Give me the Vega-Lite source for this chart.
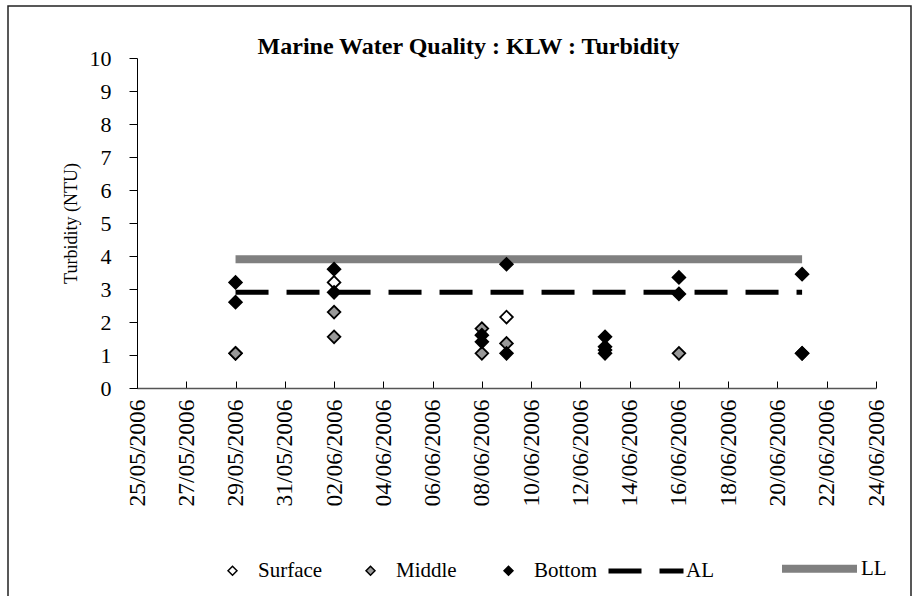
{
  "$schema": "https://vega.github.io/schema/vega-lite/v6.json",
  "width": 903,
  "height": 600,
  "autosize": {"type": "none"},
  "padding": {"left": 8, "top": 6, "right": 9, "bottom": 0},
  "background": "white",
  "config": {
    "view": {"stroke": "#222222", "strokeWidth": 1.5},
    "font": "Liberation Serif"
  },
  "title": {
    "text": "Marine Water Quality : KLW : Turbidity",
    "font": "Liberation Serif",
    "fontSize": 24,
    "fontWeight": "bold",
    "color": "black",
    "anchor": "middle",
    "frame": "group",
    "offset": -53,
    "dx": 9
  },
  "datasets": {
    "points": [
      {"Date": "2006-05-29", "Depth": "Surface", "Turbidity": 1.05},
      {"Date": "2006-06-02", "Depth": "Surface", "Turbidity": 3.2},
      {"Date": "2006-06-09", "Depth": "Surface", "Turbidity": 2.15},
      {"Date": "2006-05-29", "Depth": "Middle", "Turbidity": 1.05},
      {"Date": "2006-06-02", "Depth": "Middle", "Turbidity": 2.3},
      {"Date": "2006-06-02", "Depth": "Middle", "Turbidity": 1.55},
      {"Date": "2006-06-08", "Depth": "Middle", "Turbidity": 1.8},
      {"Date": "2006-06-08", "Depth": "Middle", "Turbidity": 1.05},
      {"Date": "2006-06-09", "Depth": "Middle", "Turbidity": 1.35},
      {"Date": "2006-06-16", "Depth": "Middle", "Turbidity": 1.05},
      {"Date": "2006-06-21", "Depth": "Middle", "Turbidity": 1.05},
      {"Date": "2006-05-29", "Depth": "Bottom", "Turbidity": 3.2},
      {"Date": "2006-05-29", "Depth": "Bottom", "Turbidity": 2.6},
      {"Date": "2006-06-02", "Depth": "Bottom", "Turbidity": 3.6},
      {"Date": "2006-06-02", "Depth": "Bottom", "Turbidity": 2.9},
      {"Date": "2006-06-08", "Depth": "Bottom", "Turbidity": 1.6},
      {"Date": "2006-06-08", "Depth": "Bottom", "Turbidity": 1.4},
      {"Date": "2006-06-09", "Depth": "Bottom", "Turbidity": 3.75},
      {"Date": "2006-06-09", "Depth": "Bottom", "Turbidity": 1.05},
      {"Date": "2006-06-13", "Depth": "Bottom", "Turbidity": 1.55},
      {"Date": "2006-06-13", "Depth": "Bottom", "Turbidity": 1.25},
      {"Date": "2006-06-13", "Depth": "Bottom", "Turbidity": 1.15},
      {"Date": "2006-06-13", "Depth": "Bottom", "Turbidity": 1.05},
      {"Date": "2006-06-16", "Depth": "Bottom", "Turbidity": 3.35},
      {"Date": "2006-06-16", "Depth": "Bottom", "Turbidity": 2.85},
      {"Date": "2006-06-21", "Depth": "Bottom", "Turbidity": 3.45},
      {"Date": "2006-06-21", "Depth": "Bottom", "Turbidity": 1.05}
    ],
    "limits": [
      {"Date": "2006-05-29", "Limit": "AL", "Turbidity": 2.9},
      {"Date": "2006-06-21", "Limit": "AL", "Turbidity": 2.9},
      {"Date": "2006-05-29", "Limit": "LL", "Turbidity": 3.9},
      {"Date": "2006-06-21", "Limit": "LL", "Turbidity": 3.9}
    ]
  },
  "encoding": {
    "x": {
      "field": "Date",
      "type": "temporal",
      "scale": {
        "type": "utc",
        "domain": [
          {"year": 2006, "month": 5, "date": 25, "utc": true},
          {"year": 2006, "month": 6, "date": 24, "utc": true}
        ],
        "range": [129, 868]
      },
      "axis": {
        "orient": "bottom",
        "offset": -218,
        "title": null,
        "grid": false,
        "values": [
          {"year": 2006, "month": 5, "date": 25, "utc": true},
          {"year": 2006, "month": 5, "date": 27, "utc": true},
          {"year": 2006, "month": 5, "date": 29, "utc": true},
          {"year": 2006, "month": 5, "date": 31, "utc": true},
          {"year": 2006, "month": 6, "date": 2, "utc": true},
          {"year": 2006, "month": 6, "date": 4, "utc": true},
          {"year": 2006, "month": 6, "date": 6, "utc": true},
          {"year": 2006, "month": 6, "date": 8, "utc": true},
          {"year": 2006, "month": 6, "date": 10, "utc": true},
          {"year": 2006, "month": 6, "date": 12, "utc": true},
          {"year": 2006, "month": 6, "date": 14, "utc": true},
          {"year": 2006, "month": 6, "date": 16, "utc": true},
          {"year": 2006, "month": 6, "date": 18, "utc": true},
          {"year": 2006, "month": 6, "date": 20, "utc": true},
          {"year": 2006, "month": 6, "date": 22, "utc": true},
          {"year": 2006, "month": 6, "date": 24, "utc": true}
        ],
        "labelExpr": "utcFormat(datum.value, '%d/%m/%Y')",
        "labelAngle": 270,
        "labelAlign": "right",
        "labelBaseline": "middle",
        "labelFont": "Liberation Serif",
        "labelFontSize": 23.5,
        "labelColor": "black",
        "labelPadding": 18,
        "labelOverlap": false,
        "labelFlush": false,
        "labelBound": false,
        "tickSize": -7,
        "tickColor": "black",
        "domainColor": "#555555",
        "domainWidth": 1.5
      }
    },
    "y": {
      "field": "Turbidity",
      "type": "quantitative",
      "scale": {"domain": [0, 10], "range": [382, 52], "nice": false, "zero": true},
      "axis": {
        "orient": "left",
        "offset": -129,
        "title": "Turbidity (NTU)",
        "titleFont": "Liberation Serif",
        "titleFontSize": 18,
        "titleFontWeight": "normal",
        "titleColor": "black",
        "titlePadding": 9,
        "grid": false,
        "values": [0, 1, 2, 3, 4, 5, 6, 7, 8, 9, 10],
        "labelFont": "Liberation Serif",
        "labelFontSize": 22,
        "labelColor": "black",
        "labelPadding": 18,
        "labelOverlap": false,
        "labelFlush": false,
        "tickSize": 8,
        "tickColor": "black",
        "domainColor": "black"
      }
    }
  },
  "layer": [
    {
      "data": {"name": "limits"},
      "mark": {"type": "line", "strokeCap": "butt"},
      "encoding": {
        "stroke": {
          "field": "Limit",
          "type": "nominal",
          "scale": {"domain": ["AL", "LL"], "range": ["black", "#808080"]},
          "legend": {
            "title": null,
            "orient": "none",
            "legendX": 598,
            "legendY": 521,
            "direction": "horizontal",
            "symbolType": "stroke",
            "symbolSize": 5625,
            "labelFont": "Liberation Serif",
            "labelFontSize": 21,
            "labelColor": "black",
            "labelOffset": 0,
            "columnPadding": 51,
            "gridAlign": "all",
            "padding": 0
          }
        },
        "strokeDash": {
          "field": "Limit",
          "type": "nominal",
          "scale": {"domain": ["AL", "LL"], "range": [[33, 18], [1, 0]]},
          "legend": {
            "title": null,
            "orient": "none",
            "legendX": 598,
            "legendY": 521,
            "direction": "horizontal",
            "symbolType": "stroke",
            "symbolSize": 5625,
            "labelFont": "Liberation Serif",
            "labelFontSize": 21,
            "labelColor": "black",
            "labelOffset": 0,
            "columnPadding": 51,
            "gridAlign": "all",
            "padding": 0
          }
        },
        "strokeWidth": {
          "field": "Limit",
          "type": "ordinal",
          "scale": {"domain": ["AL", "LL"], "range": [5, 8]},
          "legend": {
            "title": null,
            "orient": "none",
            "legendX": 598,
            "legendY": 521,
            "direction": "horizontal",
            "symbolType": "stroke",
            "symbolSize": 5625,
            "labelFont": "Liberation Serif",
            "labelFontSize": 21,
            "labelColor": "black",
            "labelOffset": 0,
            "columnPadding": 51,
            "gridAlign": "all",
            "padding": 0
          }
        }
      }
    },
    {
      "data": {"name": "points"},
      "mark": {
        "type": "point",
        "shape": "diamond",
        "filled": true,
        "size": 160,
        "stroke": "black",
        "strokeWidth": 1.8,
        "opacity": 1
      },
      "encoding": {
        "fill": {
          "field": "Depth",
          "type": "nominal",
          "sort": null,
          "scale": {"domain": ["Surface", "Middle", "Bottom"], "range": ["white", "#999999", "black"]},
          "legend": {
            "title": null,
            "orient": "none",
            "legendX": 214,
            "legendY": 554,
            "direction": "horizontal",
            "symbolType": "diamond",
            "symbolSize": 80,
            "symbolStrokeColor": "black",
            "symbolStrokeWidth": 1.5,
            "symbolOpacity": 1,
            "labelFont": "Liberation Serif",
            "labelFontSize": 21,
            "labelColor": "black",
            "labelOffset": 15,
            "columnPadding": 37,
            "gridAlign": "all",
            "padding": 0
          }
        }
      }
    }
  ]
}
